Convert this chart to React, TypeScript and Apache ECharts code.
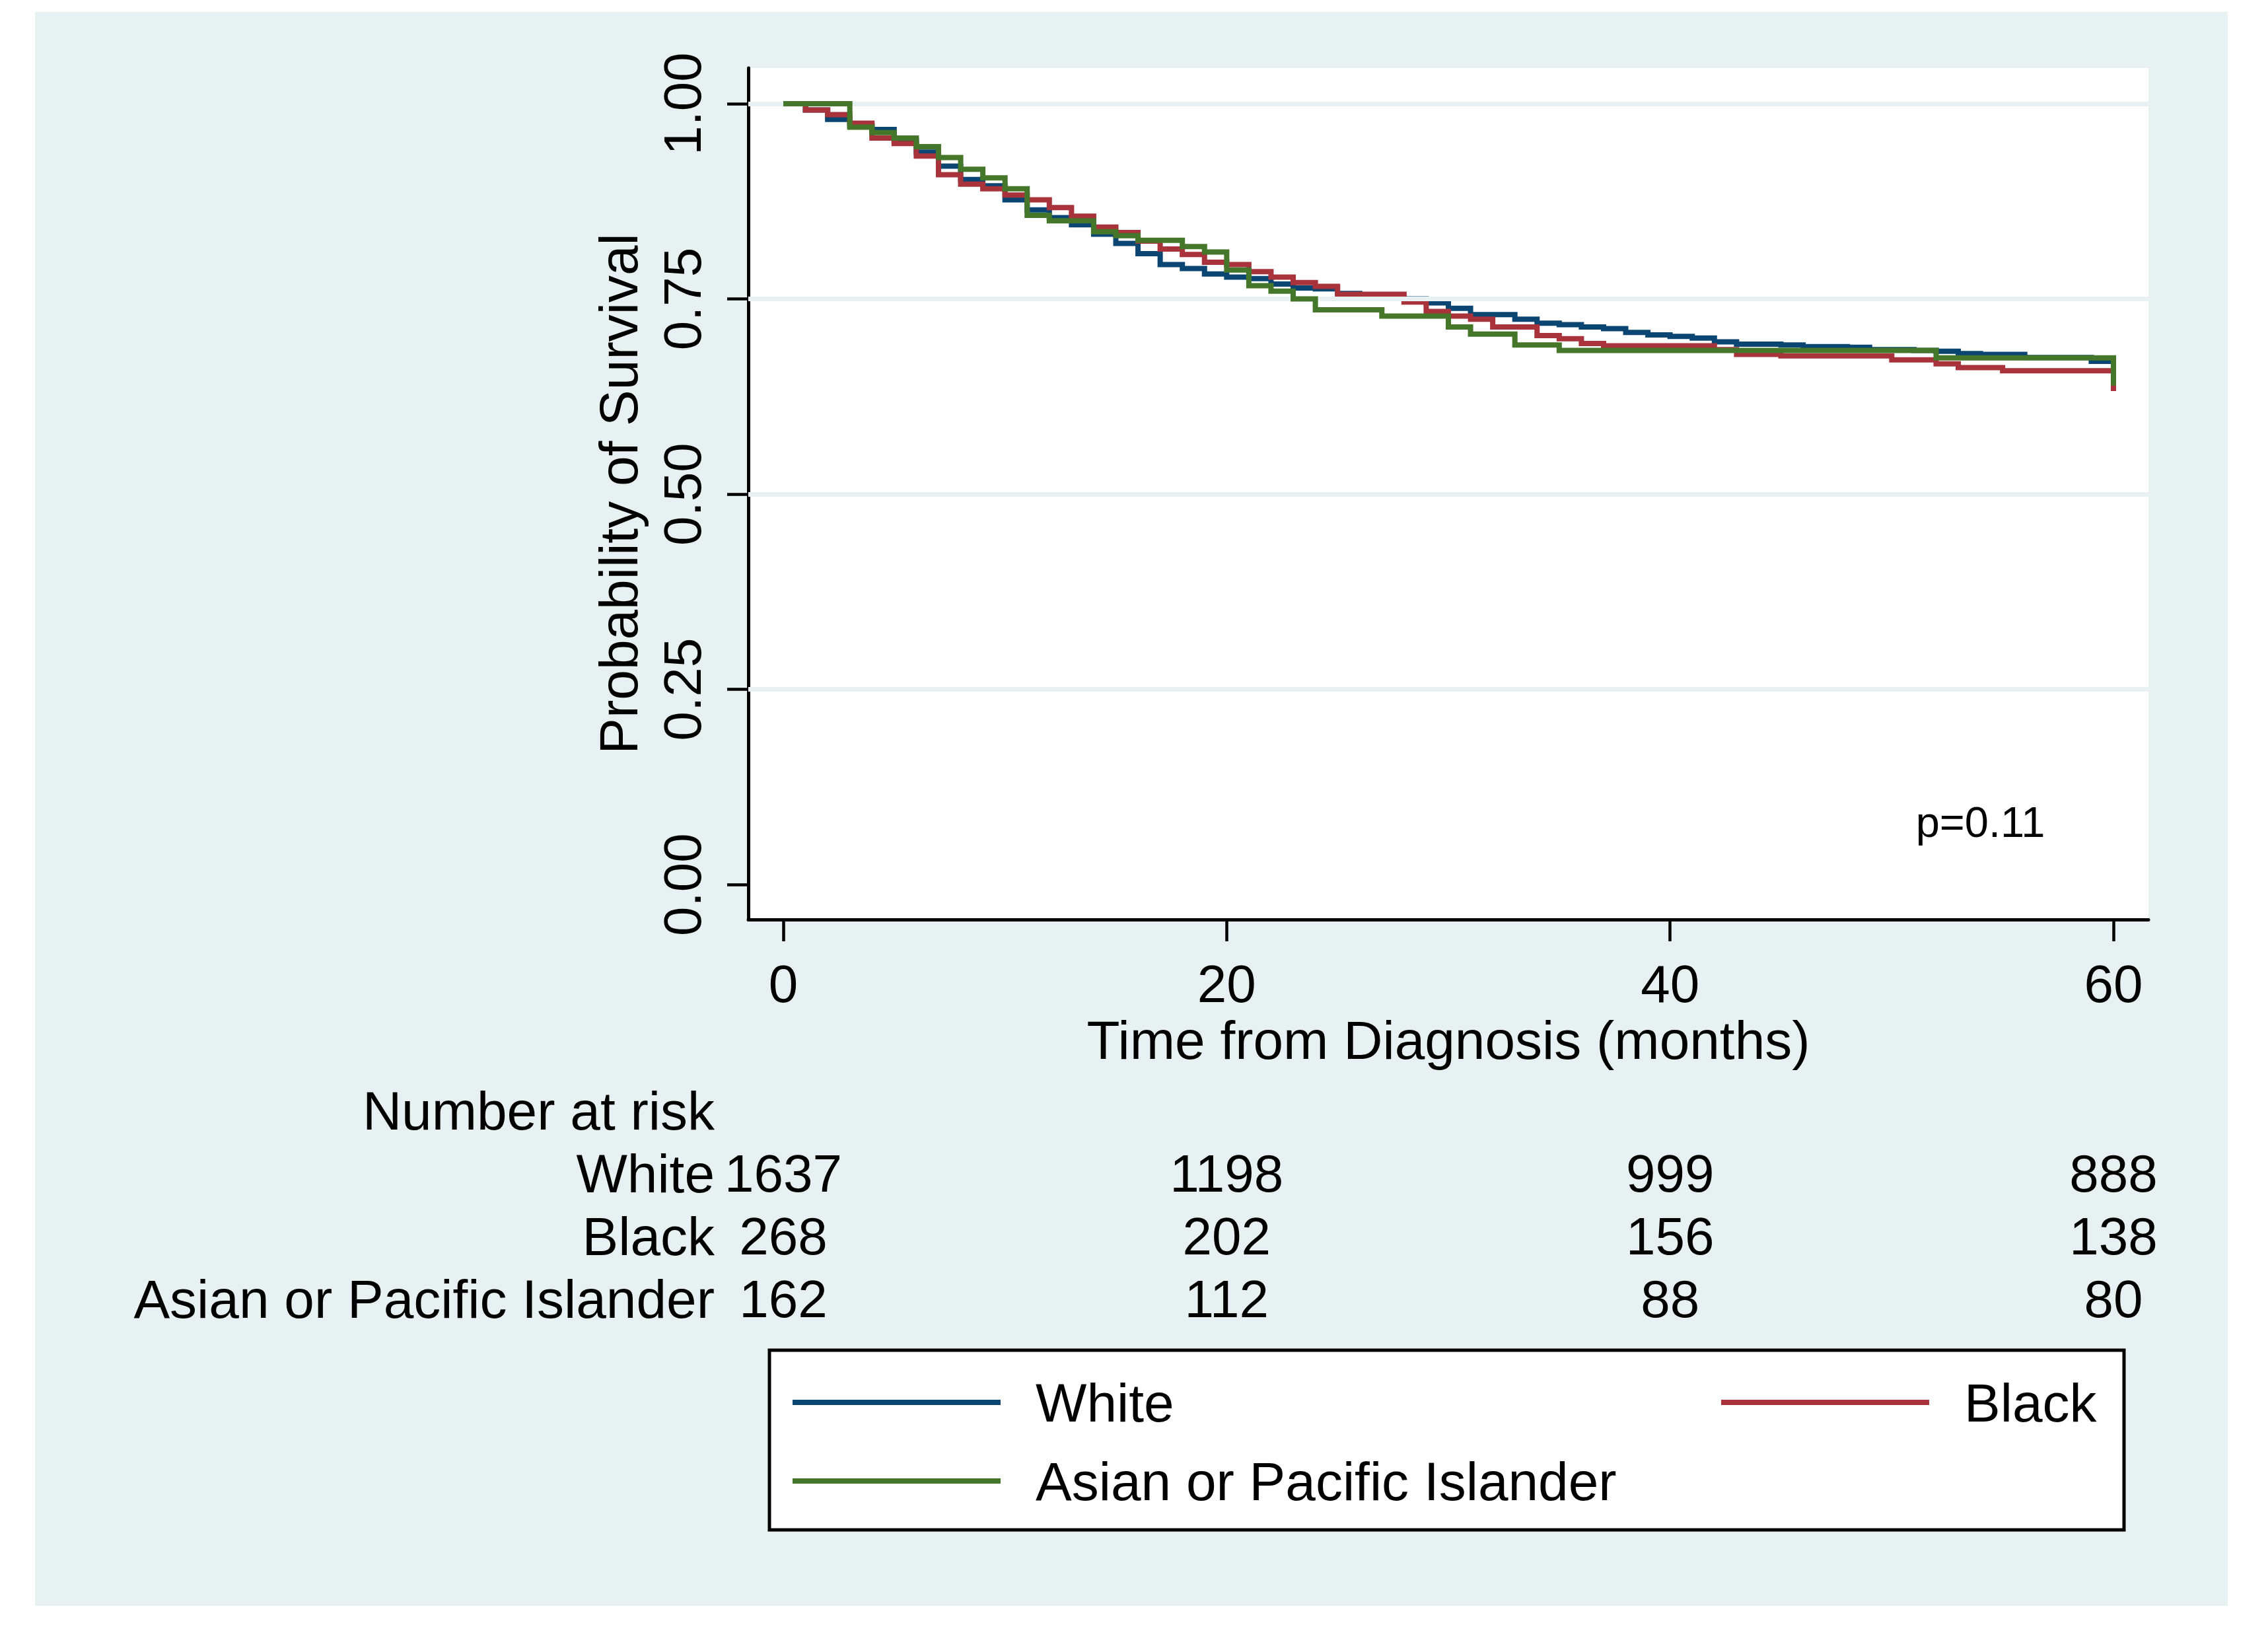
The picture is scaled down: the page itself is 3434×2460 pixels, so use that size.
import React, { useEffect, useRef } from 'react';
import * as echarts from 'echarts';

// ---------- data ----------
const months = [
  0, 1, 2, 3, 4, 5, 6, 7, 8, 9, 10, 11, 12, 13, 14, 15, 16, 17, 18, 19, 20,
  21, 22, 23, 24, 25, 26, 27, 28, 29, 30, 31, 32, 33, 34, 35, 36, 37, 38, 39, 40,
  41, 42, 43, 44, 45, 46, 47, 48, 49, 50, 51, 52, 53, 54, 55, 56, 57, 58, 59, 60,
];

const survWhite = [
  1.0, 0.992, 0.98, 0.972, 0.967, 0.953, 0.938, 0.92, 0.903, 0.895, 0.877,
  0.864, 0.854, 0.845, 0.833, 0.821, 0.808, 0.794, 0.789, 0.782, 0.778,
  0.776, 0.769, 0.764, 0.763, 0.757, 0.751, 0.751, 0.75, 0.745, 0.738,
  0.73, 0.73, 0.724, 0.719, 0.717, 0.714, 0.712, 0.707, 0.704, 0.702,
  0.7, 0.695, 0.692, 0.692, 0.691, 0.689, 0.689, 0.688, 0.685, 0.685,
  0.684, 0.683, 0.68, 0.679, 0.679, 0.675, 0.675, 0.675, 0.67, 0.645,
];

const survBlack = [
  1.0, 0.992, 0.986, 0.975, 0.956, 0.949, 0.933, 0.909, 0.897, 0.891, 0.883,
  0.877, 0.867, 0.856, 0.842, 0.835, 0.824, 0.814, 0.807, 0.797, 0.794,
  0.785, 0.778, 0.771, 0.766, 0.756, 0.756, 0.756, 0.746, 0.734, 0.728,
  0.724, 0.714, 0.714, 0.703, 0.699, 0.693, 0.69, 0.69, 0.69, 0.69,
  0.69, 0.685, 0.679, 0.679, 0.677, 0.677, 0.677, 0.677, 0.677, 0.672,
  0.672, 0.667, 0.662, 0.662, 0.658, 0.658, 0.658, 0.658, 0.658, 0.632,
];

const survAsian = [
  1.0, 1.0, 1.0, 0.97, 0.963, 0.956, 0.945, 0.931, 0.916, 0.905, 0.891,
  0.857, 0.85, 0.85, 0.836, 0.831, 0.825, 0.825, 0.817, 0.81, 0.787,
  0.767, 0.76, 0.75, 0.736, 0.736, 0.736, 0.728, 0.728, 0.728, 0.714,
  0.705, 0.705, 0.691, 0.691, 0.684, 0.684, 0.684, 0.684, 0.684, 0.684,
  0.684, 0.684, 0.684, 0.684, 0.684, 0.684, 0.684, 0.684, 0.684, 0.684,
  0.684, 0.6745, 0.6745, 0.6745, 0.6745, 0.6745, 0.6745, 0.6745, 0.6745, 0.639,
];

const groupNames = ['White', 'Black', 'Asian or Pacific Islander'];
const xTicks = [0, 20, 40, 60];
const yTicks = [0, 0.25, 0.5, 0.75, 1];
const gridLineValues = [0.25, 0.5, 0.75, 1];

const riskTitle = 'Number at risk';
const riskTimes = [0, 20, 40, 60];
const riskWhite = [1637, 1198, 999, 888];
const riskBlack = [268, 202, 156, 138];
const riskAsian = [162, 112, 88, 80];

const pValueText = 'p=0.11';
const pValueAt = [54, 0.08];

// ---------- style ----------
const FONT = '"Liberation Sans", Arial, Helvetica, sans-serif';
const BG = '#e8f1f2';
const C_WHITE = '#0b4673';
const C_BLACK = '#a8333b';
const C_ASIAN = '#44772a';

const X_MIN = -1.579;
const X_MAX = 61.579;
const Y_MIN = -0.0448;
const Y_MAX = 1.0457;

function buildOption() {
  const curve = (name: string, vals: number[], color: string, z: number) => ({
    name,
    type: 'line',
    xAxisIndex: 0,
    yAxisIndex: 0,
    step: 'end',
    showSymbol: false,
    symbol: 'none',
    color,
    itemStyle: { color },
    lineStyle: { color, width: 8, cap: 'butt', join: 'miter' },
    z,
    data: months.map((m, i) => [m, vals[i]]),
  });

  const riskRows = [
    { name: 'White', vals: riskWhite },
    { name: 'Black', vals: riskBlack },
    { name: 'Asian or Pacific Islander', vals: riskAsian },
  ];
  const riskData: any[] = [];
  riskRows.forEach((r) => {
    r.vals.forEach((v, i) => riskData.push([riskTimes[i], r.name, v]));
  });

  const textLabel = (fontSize: number) => ({
    show: true,
    position: 'inside',
    fontSize,
    color: '#000000',
    opacity: 1,
    textBorderWidth: 0,
    fontFamily: FONT,
  });

  const legendBase = {
    padding: 0,
    icon: 'rect',
    itemWidth: 315,
    itemHeight: 8,
    selectedMode: false,
    textStyle: {
      fontFamily: FONT,
      fontSize: 82,
      lineHeight: 82,
      color: '#000',
      padding: [0, 0, 0, 48],
    },
  };

  return {
    animation: false,
    backgroundColor: '#ffffff',
    textStyle: { fontFamily: FONT },
    graphic: [
      {
        type: 'rect',
        z: -10,
        silent: true,
        shape: { x: 53, y: 18, width: 3320, height: 2413 },
        style: { fill: BG },
      },
      {
        type: 'rect',
        z: 1,
        silent: true,
        shape: { x: 1165, y: 2044, width: 2051, height: 272 },
        style: { fill: '#ffffff', stroke: '#000000', lineWidth: 5 },
      },
    ],
    legend: [
      { ...legendBase, data: [groupNames[0]], left: 1200, top: 2082 },
      { ...legendBase, data: [groupNames[1]], left: 2606, top: 2082 },
      { ...legendBase, data: [groupNames[2]], left: 1200, top: 2201 },
    ],
    grid: [
      {
        left: 1133,
        right: 181,
        top: 103,
        bottom: 1068,
        show: true,
        backgroundColor: '#ffffff',
        borderWidth: 0,
      },
      { left: 1133, right: 181, top: 1634, bottom: 446, show: false },
    ],
    xAxis: [
      {
        type: 'value',
        gridIndex: 0,
        min: X_MIN,
        max: X_MAX,
        name: 'Time from Diagnosis (months)',
        nameLocation: 'middle',
        nameGap: 133,
        nameTextStyle: { fontSize: 82, color: '#000', fontFamily: FONT },
        axisLine: { show: true, onZero: false, lineStyle: { color: '#000', width: 5 } },
        axisTick: {
          show: true,
          length: 33,
          customValues: xTicks,
          lineStyle: { color: '#000', width: 4.5 },
        },
        axisLabel: {
          customValues: xTicks,
          fontSize: 80,
          color: '#000',
          margin: 57,
          fontFamily: FONT,
        },
        splitLine: { show: false },
      },
      {
        type: 'value',
        gridIndex: 1,
        min: X_MIN,
        max: X_MAX,
        show: false,
        splitLine: { show: false },
      },
    ],
    yAxis: [
      {
        type: 'value',
        gridIndex: 0,
        min: Y_MIN,
        max: Y_MAX,
        name: 'Probability of Survival',
        nameLocation: 'middle',
        nameGap: 156,
        nameTextStyle: { fontSize: 82, color: '#000', fontFamily: FONT },
        axisLine: { show: true, onZero: false, lineStyle: { color: '#000', width: 5 } },
        axisTick: {
          show: true,
          length: 32,
          customValues: yTicks,
          lineStyle: { color: '#000', width: 4.5 },
        },
        axisLabel: {
          customValues: yTicks,
          rotate: 90,
          fontSize: 80,
          color: '#000',
          margin: 60,
          fontFamily: FONT,
          formatter: (v: number) => v.toFixed(2),
        },
        splitLine: { show: false },
      },
      {
        type: 'category',
        gridIndex: 1,
        inverse: true,
        data: [riskTitle, ...groupNames],
        axisLine: { show: false },
        axisTick: { show: false },
        splitLine: { show: false },
        axisLabel: {
          interval: 0,
          hideOverlap: false,
          fontSize: 82,
          color: '#000',
          margin: 51,
          fontFamily: FONT,
        },
      },
    ],
    series: [
      {
        name: 'gridlines',
        type: 'line',
        xAxisIndex: 0,
        yAxisIndex: 0,
        data: [],
        z: 1,
        markLine: {
          silent: true,
          symbol: ['none', 'none'],
          label: { show: false },
          lineStyle: { color: BG, width: 7, type: 'solid' },
          emphasis: { disabled: true },
          data: gridLineValues.map((v) => ({ yAxis: v })),
        },
      },
      curve(groupNames[0], survWhite, C_WHITE, 3),
      curve(groupNames[1], survBlack, C_BLACK, 4),
      curve(groupNames[2], survAsian, C_ASIAN, 5),
      {
        name: 'pvalue',
        type: 'scatter',
        xAxisIndex: 0,
        yAxisIndex: 0,
        symbolSize: 0,
        itemStyle: { color: '#000000' },
        silent: true,
        data: [pValueAt],
        label: { ...textLabel(65), formatter: pValueText },
      },
      {
        name: 'atrisk',
        type: 'scatter',
        xAxisIndex: 1,
        yAxisIndex: 1,
        symbolSize: 0,
        itemStyle: { color: '#000000' },
        silent: true,
        data: riskData,
        label: { ...textLabel(80), formatter: (p: any) => String(p.value[2]) },
      },
    ],
  };
}

export default function App() {
  const ref = useRef<HTMLDivElement>(null);
  useEffect(() => {
    if (!ref.current) return;
    const chart = echarts.init(ref.current, null, { renderer: 'svg' });
    chart.setOption(buildOption() as any);
    return () => chart.dispose();
  }, []);
  return (
    <div
      ref={ref}
      style={{ position: 'fixed', left: 0, top: 0, width: 3434, height: 2460 }}
    />
  );
}
